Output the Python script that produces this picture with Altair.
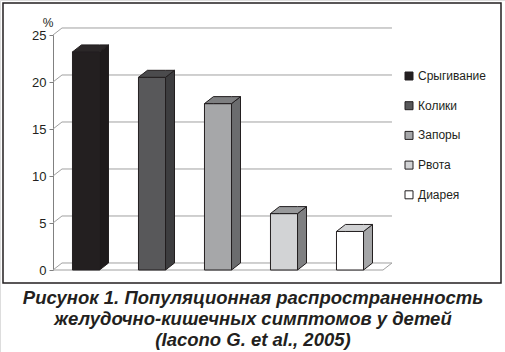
import altair as alt
import pandas as pd

categories = ["Срыгивание", "Колики", "Запоры", "Рвота", "Диарея"]
values = [23.2, 20.5, 17.7, 6.0, 4.1]
front_colors = ["#231f20", "#58585a", "#a6a7a9", "#d2d3d5", "#ffffff"]
side_colors = ["#1e1a1b", "#3d3d3f", "#6b6c6e", "#7f8082", "#a5a6a8"]
top_colors = ["#2b2728", "#4b4b4d", "#7e7f81", "#98999b", "#d0d1d3"]
y_ticks = [0, 5, 10, 15, 20, 25]
caption = ["Рисунок 1. Популяционная распространенность",
           "желудочно-кишечных симптомов у детей",
           "(Iacono G. et al., 2005)"]

HALF = 0.205   # half bar width (x units)
DX = 0.136     # depth offset x (x units)
DY = 0.745     # depth offset y (y units)
N = len(categories)
YMAX = 25

xs = alt.Scale(domain=[0, N], range=[53, 383], nice=False, zero=False)
ys = alt.Scale(domain=[0, YMAX], range=[270, 35], nice=False, zero=False)

# bar fronts
front = pd.DataFrame({
    "cat": categories,
    "x0": [i + 0.5 - HALF for i in range(N)],
    "x1": [i + 0.5 + HALF for i in range(N)],
    "v": values,
    "base": [0.0] * N,
})

# side and top faces as polygons
side_rows, top_rows = [], []
for i, (c, v) in enumerate(zip(categories, values)):
    x0 = i + 0.5 - HALF
    x1 = i + 0.5 + HALF
    side_rows += [
        {"cat": c, "x": x1, "lo": 0.0, "hi": v, "col": side_colors[i]},
        {"cat": c, "x": x1 + DX, "lo": DY, "hi": v + DY, "col": side_colors[i]},
    ]
    top_rows += [
        {"cat": c, "x": x0, "lo": v, "hi": v, "col": top_colors[i]},
        {"cat": c, "x": x0 + DX, "lo": v, "hi": v + DY, "col": top_colors[i]},
        {"cat": c, "x": x1, "lo": v, "hi": v + DY, "col": top_colors[i]},
        {"cat": c, "x": x1 + DX, "lo": v + DY, "hi": v + DY, "col": top_colors[i]},
    ]
side = pd.DataFrame(side_rows)
top = pd.DataFrame(top_rows)

# back-wall gridlines, left-wall diagonals, floor
line_rows = []
for t in y_ticks:
    line_rows.append({"x": DX, "x2": N + DX, "y": t + DY, "y2": t + DY})
    line_rows.append({"x": 0, "x2": DX, "y": t, "y2": t + DY})
line_rows.append({"x": 0, "x2": N, "y": 0, "y2": 0})
line_rows.append({"x": N, "x2": N + DX, "y": 0, "y2": DY})
lines = pd.DataFrame(line_rows)

dummy = pd.DataFrame({"a": [0]})
FONT = "Liberation Sans"
INK = "#231f20"

frame = alt.Chart(dummy).mark_rect(filled=False, stroke=INK, strokeWidth=1.5).encode(
    x=alt.value(3), x2=alt.value(501), y=alt.value(3), y2=alt.value(283))

grid = alt.Chart(lines).mark_rule(color="#a0a0a0", strokeWidth=1).encode(
    x=alt.X("x:Q", scale=xs, axis=None),
    x2="x2:Q",
    y=alt.Y("y:Q", scale=ys, axis=alt.Axis(
        values=y_ticks, title=None, offset=-53, grid=False,
        domainColor="#808080", tickColor="#808080", tickSize=4,
        labelFont=FONT, labelFontSize=13, labelColor=INK, labelPadding=3)),
    y2="y2:Q",
)

fronts = alt.Chart(front).mark_rect(stroke=INK, strokeWidth=1).encode(
    x=alt.X("x0:Q", scale=xs, axis=None),
    x2="x1:Q",
    y=alt.Y("v:Q", scale=ys),
    y2="base:Q",
    color=alt.Color("cat:N", scale=alt.Scale(domain=categories, range=front_colors),
                    legend=alt.Legend(title=None, orient="none", legendX=403, legendY=70,
                                      symbolType="square", symbolSize=64,
                                      symbolStrokeColor=INK, symbolStrokeWidth=1,
                                      labelFont=FONT, labelFontSize=12, labelColor=INK,
                                      rowPadding=17.7, labelOffset=3)),
)

sides = alt.Chart(side).mark_area(stroke=INK, strokeWidth=1, strokeJoin="round").encode(
    x=alt.X("x:Q", scale=xs, axis=None),
    y=alt.Y("lo:Q", scale=ys),
    y2="hi:Q",
    fill=alt.Fill("col:N", scale=None),
    detail="cat:N",
)

tops = alt.Chart(top).mark_area(stroke=INK, strokeWidth=1, strokeJoin="round").encode(
    x=alt.X("x:Q", scale=xs, axis=None),
    y=alt.Y("lo:Q", scale=ys),
    y2="hi:Q",
    fill=alt.Fill("col:N", scale=None),
    detail="cat:N",
)

pct = alt.Chart(dummy).mark_text(text="%", font=FONT, fontSize=12, color=INK).encode(
    x=alt.value(48), y=alt.value(23))

cap = alt.Chart(dummy).mark_text(
    text=caption, font=FONT, fontStyle="italic", fontWeight="bold", fontSize=18.5,
    lineHeight=21, align="center", baseline="top", color=INK).encode(
    x=alt.value(253), y=alt.value(289))

chart = alt.layer(frame, grid, fronts, sides, tops, pct, cap).properties(
    width=505, height=352, autosize="none", padding=0
).configure_view(stroke=None).configure(background="white")

chart.save("out.html", embed_options={"renderer": "svg", "actions": False})
